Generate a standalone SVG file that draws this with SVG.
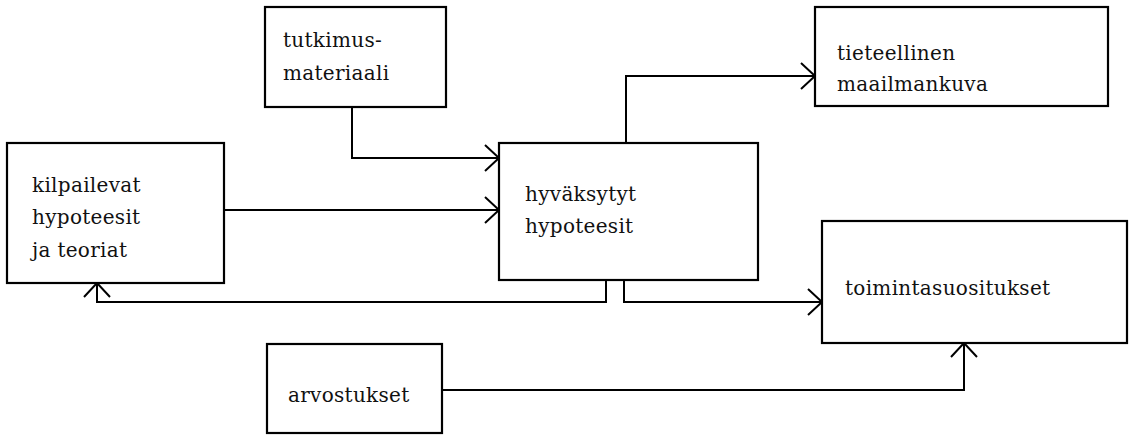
<svg xmlns="http://www.w3.org/2000/svg" width="1133" height="436" viewBox="0 0 1133 436">
<style>
.box{fill:#fff;stroke:#000;stroke-width:2.2}
.lbl{font-family:'DejaVu Serif','Liberation Serif',serif;font-size:20px;letter-spacing:0.3px;fill:#111}
.con{fill:none;stroke:#000;stroke-width:2}
</style>
<defs>
<marker id="arr" markerUnits="userSpaceOnUse" markerWidth="30" markerHeight="30" refX="15" refY="15" orient="auto" viewBox="0 0 30 30">
<path d="M1,2 L15,15 L1,28" fill="none" stroke="#000" stroke-width="2"/>
</marker>
</defs>
<rect width="1133" height="436" fill="#fff"/>
<g id="connectors">
<path class="con" d="M352,107 V158 H499" marker-end="url(#arr)"/>
<path class="con" d="M224,210 H499" marker-end="url(#arr)"/>
<path class="con" d="M626,143 V76 H815" marker-end="url(#arr)"/>
<path class="con" d="M606,280 V302 H97 V283" marker-end="url(#arr)"/>
<path class="con" d="M624,280 V302 H822" marker-end="url(#arr)"/>
<path class="con" d="M442,390 H964 V343" marker-end="url(#arr)"/>
</g>
<g id="tutkimusmateriaali">
<rect class="box" x="265" y="7" width="181" height="100"/>
<text class="lbl" x="283" y="47">tutkimus-</text>
<text class="lbl" x="283" y="80">materiaali</text>
</g>
<g id="maailmankuva">
<rect class="box" x="815" y="7" width="293" height="99"/>
<text class="lbl" x="837" y="60">tieteellinen</text>
<text class="lbl" x="837" y="91">maailmankuva</text>
</g>
<g id="kilpailevat">
<rect class="box" x="7" y="143" width="217" height="140"/>
<text class="lbl" x="32" y="192">kilpailevat</text>
<text class="lbl" x="32" y="224">hypoteesit</text>
<text class="lbl" x="32" y="257">ja teoriat</text>
</g>
<g id="hyvaksytyt">
<rect class="box" x="499" y="143" width="259" height="137"/>
<text class="lbl" x="525" y="201">hyväksytyt</text>
<text class="lbl" x="525" y="233">hypoteesit</text>
</g>
<g id="toimintasuositukset">
<rect class="box" x="822" y="221" width="305" height="122"/>
<text class="lbl" x="845" y="295">toimintasuositukset</text>
</g>
<g id="arvostukset">
<rect class="box" x="267" y="344" width="175" height="89"/>
<text class="lbl" x="288" y="402">arvostukset</text>
</g>
</svg>
